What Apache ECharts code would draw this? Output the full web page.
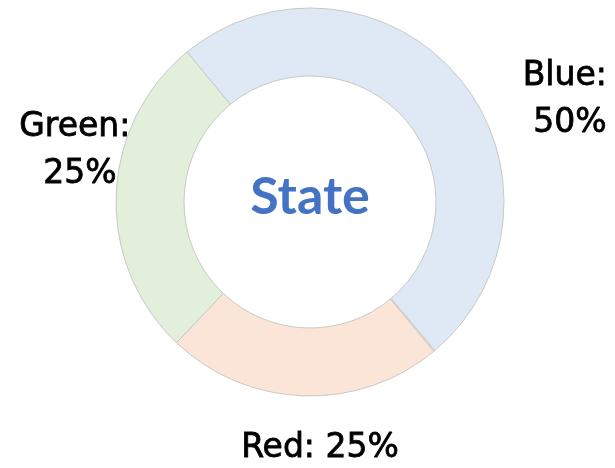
<!DOCTYPE html>
<html>
<head>
<meta charset="utf-8">
<script src="https://cdn.jsdelivr.net/npm/echarts@6/dist/echarts.min.js"></script>
<style>
  html, body { margin: 0; padding: 0; background: #fff; }
  #main { width: 615px; height: 468px; }
</style>
</head>
<body>
<div id="main"></div>
<script>
// 状态环形图
var names = ['Blue', '', 'Red', 'Green'];
var values = [49.8, 0.1, 23.1, 27.0];
var pctText = ['50%', '', '25%', '25%'];
var colors = ['#DEE9F5', '#FFFFFF', '#FBE5D6', '#E2EFDA'];

var mychart = echarts.init(document.getElementById('main'));

// 标签位置（按扇区顺序）
var labelPos = [
  { x: 570, y: 100 },
  null,
  { x: 320, y: 448 },
  { x: 80, y: 151 }
];

var data = [];
for (var i = 0; i < values.length; i++) {
  data.push({
    name: names[i],
    value: values[i],
    itemStyle: { color: colors[i] },
    label: { show: names[i] !== '' }
  });
}

var option = {
  animation: false,
  graphic: [
    {
      type: 'text',
      x: 310,
      y: 197,
      style: {
        text: 'State',
        fill: '#4472C4',
        font: 'bold 52px Lato',
        align: 'center',
        verticalAlign: 'middle'
      }
    }
  ],
  series: [
    {
      type: 'pie',
      center: [310, 202],
      radius: [126, 194],
      startAngle: 129.3,
      clockwise: true,
      silent: true,
      itemStyle: {
        borderColor: '#C8C8C8',
        borderWidth: 1
      },
      label: {
        position: 'outside',
        formatter: function(p) {
          return p.name + ': ' + (p.dataIndex === 2 ? '' : '\n') + pctText[p.dataIndex];
        },
        fontFamily: 'DejaVu Sans',
        fontSize: 33,
        fontWeight: 'normal',
        lineHeight: 47,
        color: '#000',
        textBorderColor: '#000',
        textBorderWidth: 0.8,
        align: 'center',
        overflow: 'none',
        width: 300
      },
      labelLine: { show: false },
      labelLayout: function(params) {
        var pos = labelPos[params.dataIndex];
        if (!pos) return {};
        return { x: pos.x, y: pos.y, align: 'center', verticalAlign: 'middle' };
      },
      data: data
    }
  ]
};

mychart.setOption(option);
</script>
</body>
</html>
